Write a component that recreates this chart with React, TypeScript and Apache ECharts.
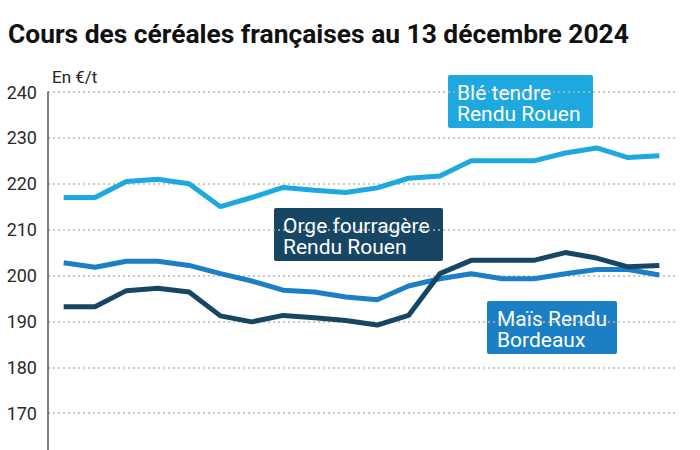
import React, { useEffect, useRef } from "react";
import * as echarts from "echarts";

const categories = ["1", "2", "3", "4", "5", "6", "7", "8", "9", "10", "11", "12", "13", "14", "15", "16", "17", "18", "19", "20"];
const bleValues = [217, 217, 220.5, 221, 220, 215, 217, 219.2, 218.6, 218.1, 219.1, 221.2, 221.7, 225, 225, 225, 226.7, 227.8, 225.7, 226.1];
const orgeValues = [193.2, 193.2, 196.7, 197.2, 196.4, 191.2, 189.9, 191.3, 190.8, 190.2, 189.2, 191.3, 200.4, 203.3, 203.3, 203.3, 205, 203.8, 201.9, 202.2];
const maisValues = [202.8, 201.8, 203.1, 203.1, 202.2, 200.4, 198.8, 196.8, 196.4, 195.3, 194.7, 197.7, 199.3, 200.4, 199.3, 199.3, 200.4, 201.3, 201.3, 200.1];
const yTicks = { min: 160, max: 240, interval: 10 };

const BLE = "#1ea8e0";
const MAIS = "#1a7fc4";
const ORGE = "#174664";

export default function App() {
  const ref = useRef<HTMLDivElement>(null);
  useEffect(() => {
    if (!ref.current) return;
    const chart = echarts.init(ref.current, null, { renderer: "svg" });
    const font = "Roboto, 'Noto Sans', sans-serif";
    const label = (left: number, top: number, w: number, color: string, text: string, tx: number) => ({
      type: "group",
      left,
      top,
      z: 10,
      children: [
        { type: "rect", shape: { x: 0, y: 0, width: w, height: 53, r: 2 }, style: { fill: color } },
        { type: "text", x: tx, y: 7.5, scaleX: 1.05, style: { text, fontSize: 20, lineHeight: 21, fill: "#fff", fontFamily: font } },
      ],
    });
    chart.setOption({
      animation: false,
      backgroundColor: "#ffffff",
      textStyle: { fontFamily: font },
      grid: { left: 48, right: 25, top: 92, height: 367, outerBoundsMode: "none", containLabel: false },
      xAxis: {
        type: "category",
        data: categories,
        boundaryGap: true,
        axisLine: { show: false },
        axisTick: { show: false },
        axisLabel: { show: false },
        splitLine: { show: false },
      },
      yAxis: {
        type: "value",
        min: yTicks.min,
        max: yTicks.max,
        interval: yTicks.interval,
        axisLine: { show: true, lineStyle: { color: "#555", width: 1.5 } },
        axisTick: { show: false },
        axisLabel: { color: "#2a2a2a", fontSize: 18, margin: 11, fontFamily: font, showMinLabel: false },
        splitLine: { show: true, lineStyle: { color: "#b5b5b5", type: [2, 3], width: 1.5 } },
      },
      series: [
        { name: "Blé tendre Rendu Rouen", type: "line", data: bleValues, showSymbol: false, lineStyle: { color: BLE, width: 5 }, itemStyle: { color: BLE }, z: 3 },
        { name: "Maïs Rendu Bordeaux", type: "line", data: maisValues, showSymbol: false, lineStyle: { color: MAIS, width: 5 }, itemStyle: { color: MAIS }, z: 3 },
        { name: "Orge fourragère Rendu Rouen", type: "line", data: orgeValues, showSymbol: false, lineStyle: { color: ORGE, width: 5 }, itemStyle: { color: ORGE }, z: 4 },
      ],
      graphic: [
        {
          type: "text",
          x: 8,
          y: 22,
          scaleX: 1.055,
          style: { text: "Cours des céréales françaises au 13 décembre 2024", fontSize: 25, fontWeight: "bold", fill: "#111", fontFamily: font },
        },
        {
          type: "text",
          left: 52,
          top: 68,
          style: { text: "En €/t", fontSize: 17, fill: "#222", fontFamily: font },
        },
        label(448, 75, 145, BLE, "Blé tendre\nRendu Rouen", 9),
        label(274, 208, 169, ORGE, "Orge fourragère\nRendu Rouen", 9),
        label(487, 301, 130, MAIS, "Maïs Rendu\nBordeaux", 10),
      ],
    });
    return () => chart.dispose();
  }, []);
  return <div ref={ref} style={{ position: "fixed", left: 0, top: 0, width: 700, height: 450 }} />;
}
